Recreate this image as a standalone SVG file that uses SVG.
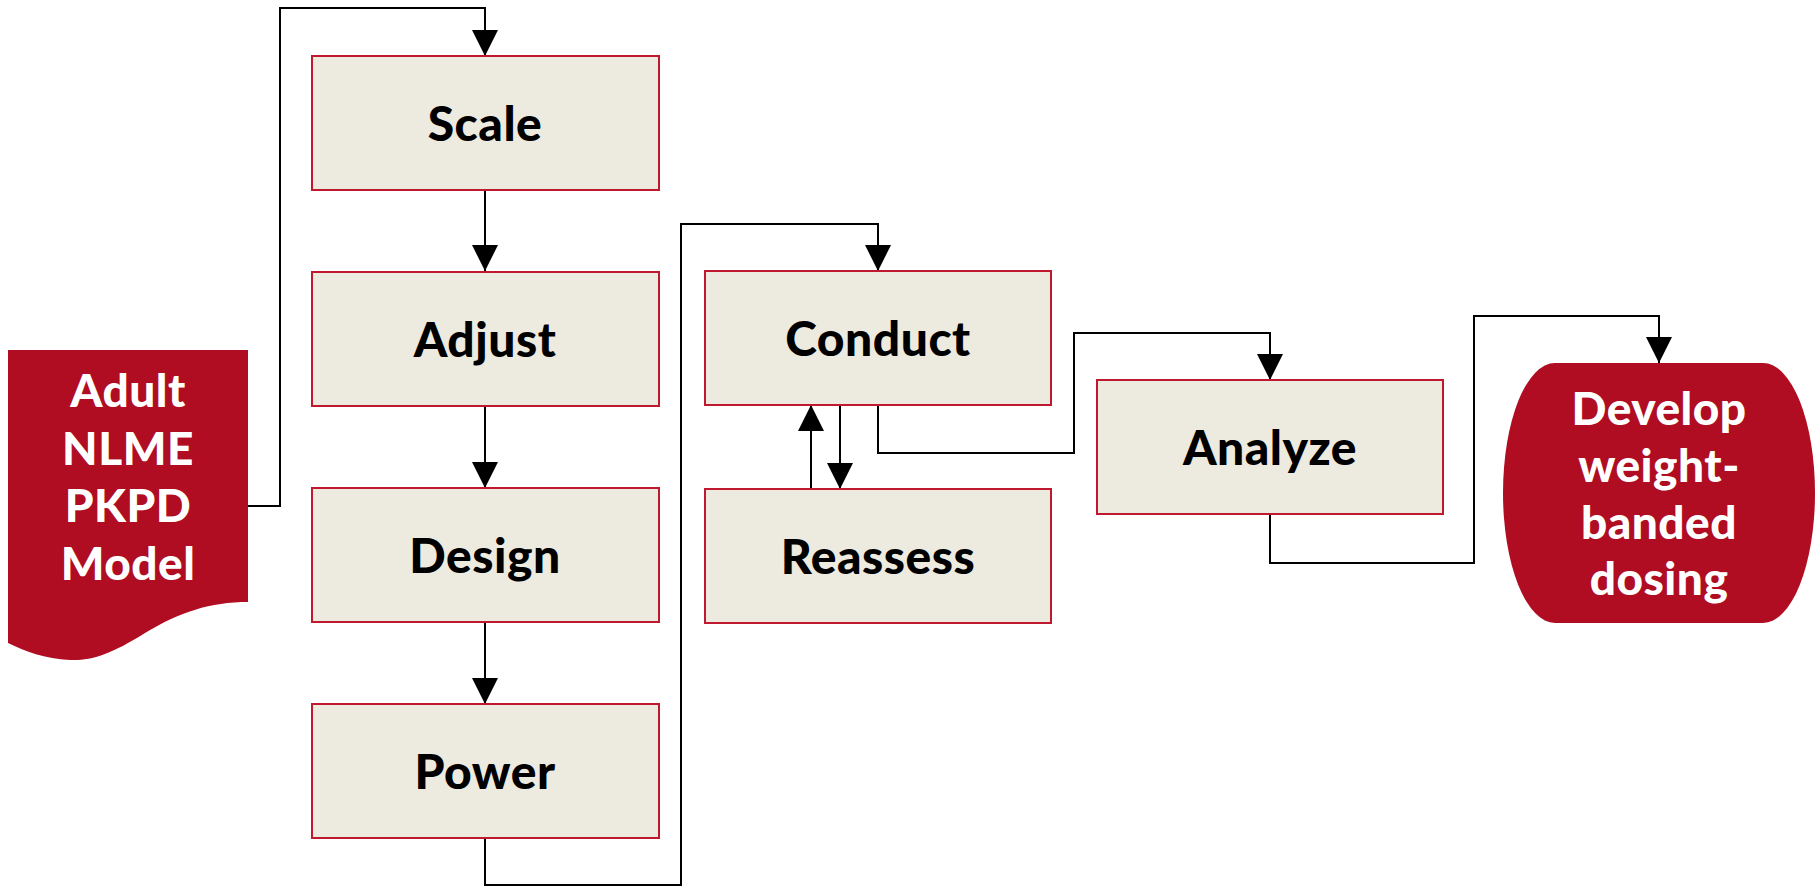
<svg xmlns="http://www.w3.org/2000/svg" width="1819" height="886" viewBox="0 0 1819 886">
<style>
.box{fill:#EDEAE0;stroke:#C0182E;stroke-width:2}
.term{fill:#B00C22;stroke:none}
.lbl{font-family:Lato,"Open Sans",sans-serif;font-weight:900;font-size:48px;letter-spacing:0.5px;fill:#000;text-anchor:middle}
.wl{font-family:Lato,"Open Sans",sans-serif;font-weight:900;font-size:46px;letter-spacing:0.5px;fill:#fff;text-anchor:middle}
.con{fill:none;stroke:#000;stroke-width:2}
</style>
<defs>
<marker id="ah" markerUnits="userSpaceOnUse" markerWidth="26" markerHeight="26" viewBox="0 0 26 26" refX="26" refY="13" orient="auto">
<path d="M0,0 L26,13 L0,26 Z" fill="#000"/>
</marker>
</defs>
<g id="connectors">
<path class="con" d="M248,506 H280 V8 H485 V56" marker-end="url(#ah)"/>
<path class="con" d="M485,190 V271" marker-end="url(#ah)"/>
<path class="con" d="M485,406 V488" marker-end="url(#ah)"/>
<path class="con" d="M485,623 V704" marker-end="url(#ah)"/>
<path class="con" d="M485,838 V885 H681 V224 H878 V271" marker-end="url(#ah)"/>
<path class="con" d="M811,489 V405" marker-end="url(#ah)"/>
<path class="con" d="M840,405 V489" marker-end="url(#ah)"/>
<path class="con" d="M878,405 V453 H1074 V333 H1270 V380" marker-end="url(#ah)"/>
<path class="con" d="M1270,514 V563 H1474 V316 H1659 V363" marker-end="url(#ah)"/>
</g>
<g id="adult">
<path class="term" d="M8,350 H248 V602 C210,602 180,612 145,633 C110,655 90,661 70,660 C45,659 25,651 8,643 Z"/>
<text class="wl" x="128" y="407">Adult</text>
<text class="wl" x="128" y="465">NLME</text>
<text class="wl" x="128" y="522">PKPD</text>
<text class="wl" x="128" y="580">Model</text>
</g>
<g id="scale"><rect class="box" x="312" y="56" width="347" height="134"/><text class="lbl" x="485" y="141">Scale</text></g>
<g id="adjust"><rect class="box" x="312" y="272" width="347" height="134"/><text class="lbl" x="485" y="357">Adjust</text></g>
<g id="design"><rect class="box" x="312" y="488" width="347" height="134"/><text class="lbl" x="485" y="573">Design</text></g>
<g id="power"><rect class="box" x="312" y="704" width="347" height="134"/><text class="lbl" x="485" y="789">Power</text></g>
<g id="conduct"><rect class="box" x="705" y="271" width="346" height="134"/><text class="lbl" x="878" y="356">Conduct</text></g>
<g id="reassess"><rect class="box" x="705" y="489" width="346" height="134"/><text class="lbl" x="878" y="574">Reassess</text></g>
<g id="analyze"><rect class="box" x="1097" y="380" width="346" height="134"/><text class="lbl" x="1270" y="465">Analyze</text></g>
<g id="develop">
<path class="term" d="M1555,363 H1763 A52,130 0 0 1 1763,623 H1555 A52,130 0 0 1 1555,363 Z"/>
<text class="wl" x="1659" y="425">Develop</text>
<text class="wl" x="1659" y="482">weight-</text>
<text class="wl" x="1659" y="539">banded</text>
<text class="wl" x="1659" y="595">dosing</text>
</g>
</svg>
